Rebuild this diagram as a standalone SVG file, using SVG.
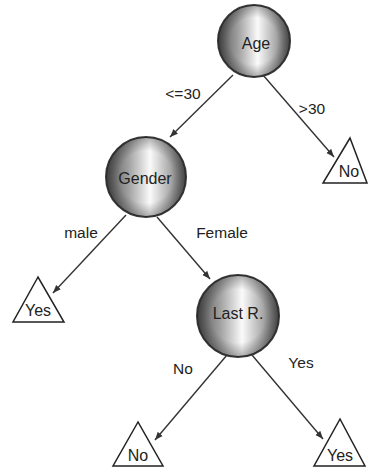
<svg xmlns="http://www.w3.org/2000/svg" width="369" height="468" viewBox="0 0 369 468">
<defs>
<linearGradient id="sphere" x1="0" y1="0" x2="1" y2="0">
<stop offset="0" stop-color="#555"/>
<stop offset="0.28" stop-color="#a0a0a0"/>
<stop offset="0.55" stop-color="#fafafa"/>
<stop offset="0.8" stop-color="#aaa"/>
<stop offset="1" stop-color="#5e5e5e"/>
</linearGradient>
<radialGradient id="shade" cx="0.5" cy="0.5" r="0.5">
<stop offset="0.65" stop-color="#000" stop-opacity="0"/>
<stop offset="1" stop-color="#000" stop-opacity="0.3"/>
</radialGradient>
<marker id="arr" viewBox="0 0 10 10" refX="10" refY="5" markerWidth="8" markerHeight="8" markerUnits="userSpaceOnUse" orient="auto">
<path d="M0,1 L10,5 L0,9 Z" fill="#333"/>
</marker>
</defs>
<style>
.ball{fill:url(#sphere);stroke:#3a3a3a;stroke-width:2}
.shade{fill:url(#shade)}
.leaf{fill:#fff;stroke:#222;stroke-width:1.5;stroke-linejoin:miter}
.t{font-family:"Liberation Sans",Arial,sans-serif;font-size:16px;fill:#222;text-anchor:middle;dominant-baseline:central}
.lbl{font-family:"Liberation Sans",Arial,sans-serif;font-size:15.5px;fill:#222;text-anchor:middle;dominant-baseline:central}
.edge{stroke:#333;stroke-width:1.4;fill:none;marker-end:url(#arr)}
</style>
<g id="connectors">
<line class="edge" x1="233" y1="75" x2="170" y2="137"/>
<line class="edge" x1="263" y1="75" x2="334" y2="157"/>
<line class="edge" x1="126" y1="215" x2="53" y2="293"/>
<line class="edge" x1="157" y1="217" x2="210" y2="279"/>
<line class="edge" x1="227" y1="355" x2="155" y2="440"/>
<line class="edge" x1="252" y1="355" x2="323" y2="439"/>
<text class="lbl" x="183" y="93">&lt;=30</text>
<text class="lbl" x="312" y="108">&gt;30</text>
<text class="lbl" x="81" y="232">male</text>
<text class="lbl" x="222" y="232">Female</text>
<text class="lbl" x="183" y="368">No</text>
<text class="lbl" x="301" y="362">Yes</text>
</g>
<g id="age">
<circle class="ball" cx="254" cy="41" r="36"/>
<circle class="shade" cx="254" cy="41" r="36"/>
<text class="t" x="256" y="43">Age</text>
</g>
<g id="gender">
<circle class="ball" cx="146" cy="177" r="40"/>
<circle class="shade" cx="146" cy="177" r="40"/>
<text class="t" x="145" y="178">Gender</text>
</g>
<g id="lastr">
<circle class="ball" cx="238" cy="316" r="41"/>
<circle class="shade" cx="238" cy="316" r="41"/>
<text class="t" x="238" y="313">Last R.</text>
</g>
<g id="leaf-no-age">
<polygon class="leaf" points="350,138 323,183 367,183"/>
<text class="t" x="349" y="171">No</text>
</g>
<g id="leaf-yes-male">
<polygon class="leaf" points="38,277 13,322 64,322"/>
<text class="t" x="38" y="310">Yes</text>
</g>
<g id="leaf-no-last">
<polygon class="leaf" points="138,422 113,466 163,466"/>
<text class="t" x="138" y="455">No</text>
</g>
<g id="leaf-yes-last">
<polygon class="leaf" points="340,419 314,466 365,466"/>
<text class="t" x="340" y="455">Yes</text>
</g>
</svg>
